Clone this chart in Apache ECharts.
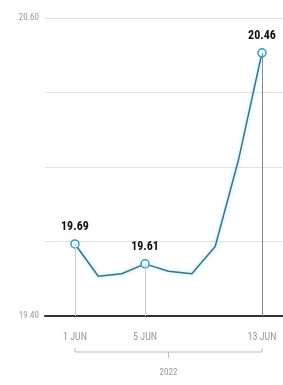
<!DOCTYPE html>
<html>
<head>
<meta charset="utf-8">
<script src="https://cdn.jsdelivr.net/npm/echarts@6/dist/echarts.min.js"></script>
<style>
  html, body { margin: 0; padding: 0; background: #fff; }
  #chart { width: 283px; height: 385px; }
</style>
</head>
<body>
<div id="chart"></div>
<script>
const dates = ['1 JUN', '2 JUN', '3 JUN', '5 JUN', '6 JUN', '7 JUN', '8 JUN', '10 JUN', '13 JUN']
const rates = [19.69, 19.56, 19.57, 19.61, 19.58, 19.57, 19.68, 20.03, 20.46]
const labelled = [0, 3, 8]
const yearLabel = '2022'
const yMin = 19.4
const yMax = 20.6
const yStep = 0.3

const font = "'Liberation Sans Narrow', 'Roboto Condensed', 'Liberation Sans', sans-serif"

const chart = echarts.init(document.getElementById('chart'))

const points = rates.map((v, i) => {
  const item = { value: [i, v] }
  if (labelled.includes(i)) {
    item.symbol = 'circle'
    item.symbolSize = 8
    item.label = { show: true }
  }
  return item
})

// vertical guide lines from the axis up to the labelled points
const guides = labelled.map((i, k) => [
  { coord: [i, yMin], lineStyle: { color: k === labelled.length - 1 ? '#888' : '#ccc', width: 1, type: 'solid' } },
  { coord: [i, rates[i]] }
])

chart.setOption({
  animation: false,
  grid: { left: 45, right: 0, top: 18, bottom: 69 },
  xAxis: {
    type: 'value',
    min: -1.28,
    max: 8.9,
    splitLine: { show: false },
    axisTick: { show: false },
    axisLine: { show: true, onZero: false, lineStyle: { color: '#333', width: 2 } },
    axisLabel: {
      customValues: labelled,
      formatter: v => dates[Math.round(v)] || '',
      color: '#999',
      fontSize: 10,
      fontFamily: font,
      margin: 16
    }
  },
  yAxis: {
    type: 'value',
    min: yMin,
    max: yMax,
    interval: yStep,
    axisLine: { show: false },
    axisTick: { show: false },
    splitLine: { lineStyle: { color: '#e2e2e2', width: 1 } },
    axisLabel: {
      formatter: v => (Math.abs(v - yMin) < 1e-6 || Math.abs(v - yMax) < 1e-6) ? v.toFixed(2) : '',
      color: '#999',
      fontSize: 9,
      fontFamily: font,
      margin: 6
    }
  },
  series: [{
    type: 'line',
    data: points,
    showSymbol: true,
    symbol: 'none',
    lineStyle: { color: '#3f6f8c', width: 1.5, shadowColor: '#8de6f7', shadowBlur: 4 },
    itemStyle: { color: '#fff', borderColor: '#2f9fc9', borderWidth: 1.5 },
    label: {
      show: false,
      position: 'top',
      distance: 6,
      formatter: p => p.value[1].toFixed(2),
      color: '#111',
      fontWeight: 'bold',
      fontSize: 12,
      fontFamily: font
    },
    markLine: {
      silent: true,
      symbol: 'none',
      label: { show: false },
      data: guides
    },
    z: 3
  }]
})

// year bracket under the date labels
const a = chart.convertToPixel({ xAxisIndex: 0, yAxisIndex: 0 }, [0, yMin])
const b = chart.convertToPixel({ xAxisIndex: 0, yAxisIndex: 0 }, [rates.length - 1, yMin])
const by = a[1] + 36
const mid = (a[0] + b[0]) / 2
const bracket = { stroke: '#bbb', lineWidth: 1 }
chart.setOption({
  graphic: [
    { type: 'polyline', shape: { points: [[a[0], by - 4], [a[0], by], [b[0], by], [b[0], by - 4]] }, style: bracket },
    { type: 'line', shape: { x1: mid, y1: by, x2: mid, y2: by + 6 }, style: bracket },
    { type: 'text', x: mid, y: by + 21, style: { text: yearLabel, fill: '#999', fontSize: 9, fontFamily: font, align: 'center', verticalAlign: 'middle' } }
  ]
})
</script>
</body>
</html>
